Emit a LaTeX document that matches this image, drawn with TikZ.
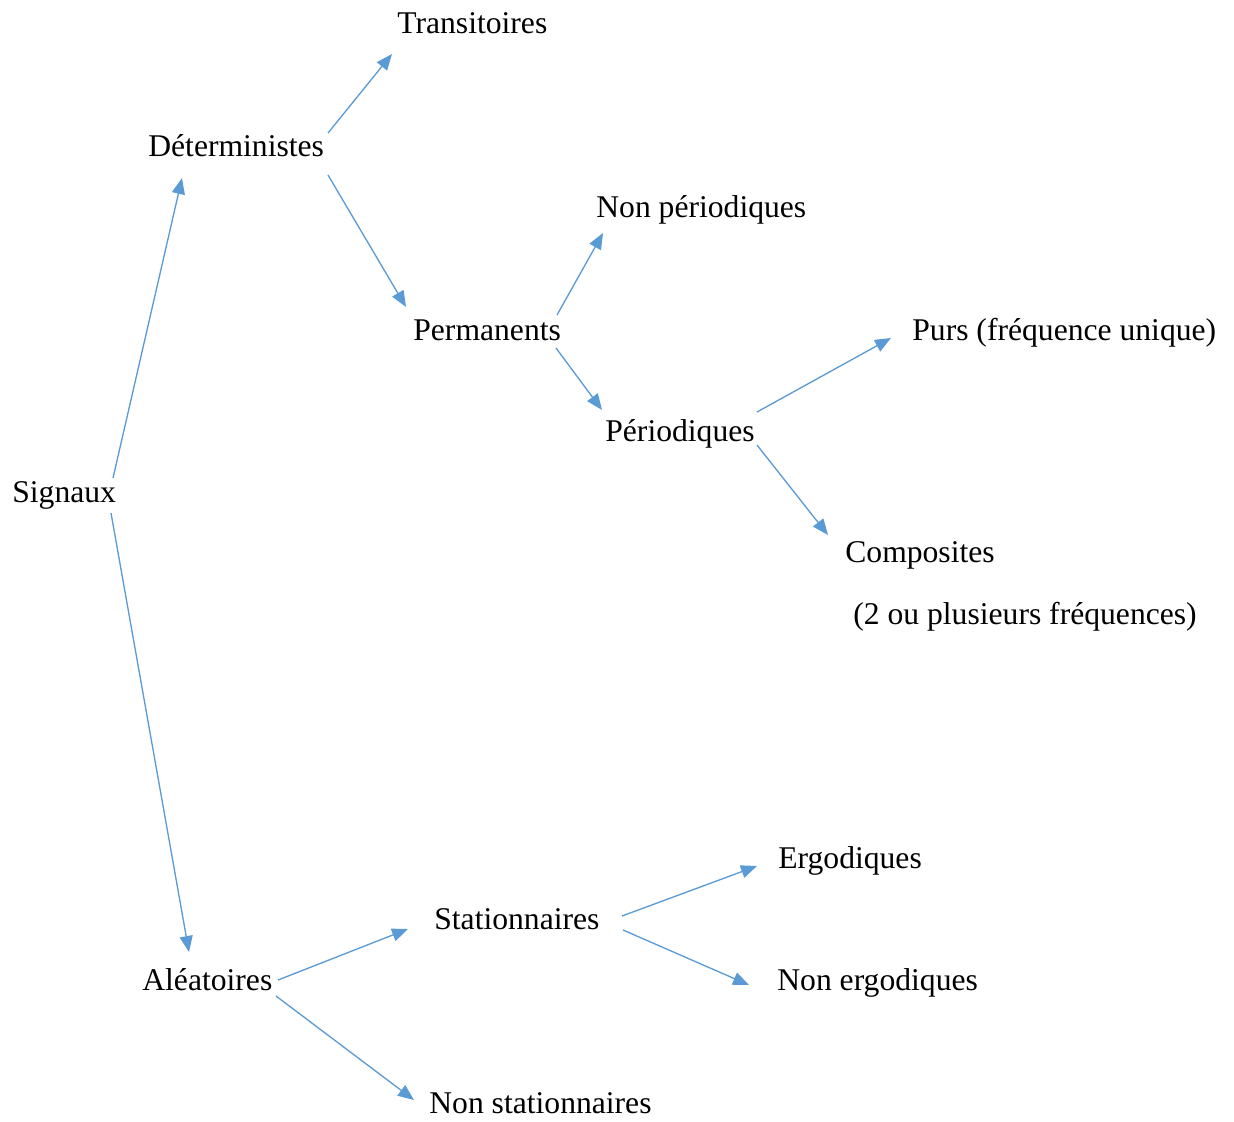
\documentclass[tikz,border=0pt]{standalone}
\usepackage{fontspec}
\setmainfont{Liberation Serif}
\usetikzlibrary{arrows.meta,calc}
\definecolor{arrowblue}{HTML}{5B9BD5}
\begin{document}
\begin{tikzpicture}[x=0.02cm,y=-0.02cm,
  lbl/.style={anchor=base west,inner sep=0pt,font=\fontsize{18}{21}\selectfont},
  conn/.style={draw=arrowblue,line width=0.75pt,-{Triangle[length=0.32cm,width=0.26cm]},fill=arrowblue}]
\useasboundingbox (0,0) rectangle (1234,1122);
\node[lbl] (tra) at (397,34) {Transitoires};
\node[lbl] (det) at (148,156) {Déterministes};
\node[lbl] (np) at (596,217) {Non périodiques};
\node[lbl] (per) at (413,340) {Permanents};
\node[lbl] (purs) at (912,340) {Purs (fréquence unique)};
\node[lbl] (peri) at (605,441) {Périodiques};
\node[lbl] (sig) at (12,502) {Signaux};
\node[lbl] (comp) at (845,562) {Composites};
\node[lbl] (compb) at (853,624) {(2 ou plusieurs fréquences)};
\node[lbl] (erg) at (778,868) {Ergodiques};
\node[lbl] (sta) at (434,929) {Stationnaires};
\node[lbl] (ale) at (142,990) {Aléatoires};
\node[lbl] (nerg) at (777,990) {Non ergodiques};
\node[lbl] (nsta) at (429,1113) {Non stationnaires};
\draw[conn] ($(sig.base west)+(101,-24)$) -- ($(det.base west)+(34,22)$);
\draw[conn] ($(sig.base west)+(99,11)$) -- ($(ale.base west)+(47,-38)$);
\draw[conn] ($(det.base west)+(180,-23)$) -- ($(tra.base west)+(-5,20)$);
\draw[conn] ($(det.base west)+(180,19)$) -- ($(per.base west)+(-7,-33)$);
\draw[conn] ($(per.base west)+(144,-25)$) -- ($(np.base west)+(7,16)$);
\draw[conn] ($(per.base west)+(143,8)$) -- ($(peri.base west)+(-3,-31)$);
\draw[conn] ($(peri.base west)+(152,-29)$) -- ($(purs.base west)+(-21,-2)$);
\draw[conn] ($(peri.base west)+(152,4)$) -- ($(comp.base west)+(-17,-27)$);
\draw[conn] ($(ale.base west)+(136,-10)$) -- ($(sta.base west)+(-26,0)$);
\draw[conn] ($(ale.base west)+(134,6)$) -- ($(nsta.base west)+(-15,-13)$);
\draw[conn] ($(sta.base west)+(188,-13)$) -- ($(erg.base west)+(-21,-2)$);
\draw[conn] ($(sta.base west)+(189,1)$) -- ($(nerg.base west)+(-28,-5)$);
\end{tikzpicture}
\end{document}
